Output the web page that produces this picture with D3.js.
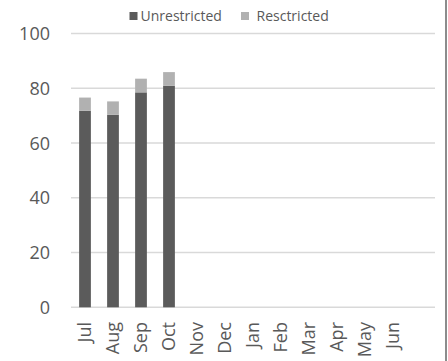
<!DOCTYPE html>
<html>
<head>
<meta charset="utf-8">
<script src="https://cdn.jsdelivr.net/npm/d3@7"></script>
<style>
  body { margin: 0; background: #fff; }
  svg { display: block; }
  text { font-family: "Open Sans", sans-serif; fill: #595959; }
</style>
</head>
<body>
<div id="chart"></div>
<script>
const width = 448;
const height = 361;

const months = ["Jul", "Aug", "Sep", "Oct", "Nov", "Dec", "Jan", "Feb", "Mar", "Apr", "May", "Jun"];
const unrestricted = [71.8, 70.3, 78.5, 80.9, null, null, null, null, null, null, null, null];
const restricted = [4.8, 4.9, 5.0, 5.0, null, null, null, null, null, null, null, null];
const yTicks = [0, 20, 40, 60, 80, 100];

const colors = { unrestricted: "#5b5b5b", restricted: "#b1b1b1" };

const svg = d3.select("#chart")
	.append("svg")
	.attr("width", width)
	.attr("height", height);

const x = d3.scaleBand()
	.domain(months)
	.range([71, 407])
	.paddingInner(0.58)
	.paddingOuter(0.29);

const y = d3.scaleLinear()
	.domain([0, 100])
	.range([307.3, 33.5]);

// gridlines
svg.append("g")
	.selectAll("line")
	.data(yTicks)
	.enter()
	.append("line")
	.attr("x1", 71)
	.attr("x2", 435)
	.attr("y1", d => y(d))
	.attr("y2", d => y(d))
	.style("stroke", "#d9d9d9")
	.style("stroke-width", 1.5);

// y labels
svg.append("g")
	.selectAll("text")
	.data(yTicks)
	.enter()
	.append("text")
	.attr("x", 50)
	.attr("y", d => y(d))
	.attr("dy", "0.36em")
	.style("text-anchor", "end")
	.style("font-size", "18px")
	.text(d => d);

// stacked bars
const rows = months.map((m, i) => ({ m: m, u: unrestricted[i], r: restricted[i] }))
	.filter(d => d.u != null);

const bars = svg.append("g").selectAll("g").data(rows).enter().append("g");

bars.append("rect")
	.attr("x", d => x(d.m))
	.attr("width", x.bandwidth())
	.attr("y", d => y(d.u))
	.attr("height", d => y(0) - y(d.u))
	.attr("fill", colors.unrestricted);

bars.append("rect")
	.attr("x", d => x(d.m))
	.attr("width", x.bandwidth())
	.attr("y", d => y(d.u + d.r))
	.attr("height", d => y(d.u) - y(d.u + d.r))
	.attr("fill", colors.restricted);

// x labels, rotated
svg.append("g")
	.selectAll("text")
	.data(months)
	.enter()
	.append("text")
	.attr("transform", d => "translate(" + (x(d) + x.bandwidth() / 2) + ",322) rotate(-90)")
	.attr("dy", "0.36em")
	.style("text-anchor", "end")
	.style("font-size", "18px")
	.text(d => d);

// legend
const legend = svg.append("g");
const legendItems = [
	{ label: "Unrestricted", color: colors.unrestricted, x: 129.5, tx: 140.5 },
	{ label: "Resctricted", color: colors.restricted, x: 241, tx: 256.5 }
];
legend.selectAll("rect")
	.data(legendItems)
	.enter()
	.append("rect")
	.attr("x", d => d.x)
	.attr("y", 12)
	.attr("width", 8)
	.attr("height", 8)
	.attr("fill", d => d.color);
legend.selectAll("text")
	.data(legendItems)
	.enter()
	.append("text")
	.attr("x", d => d.tx)
	.attr("y", 16)
	.attr("dy", "0.36em")
	.style("font-size", "14px")
	.text(d => d.label);

// right border
svg.append("line")
	.attr("x1", 446)
	.attr("x2", 446)
	.attr("y1", 0)
	.attr("y2", height)
	.style("stroke", "#8c8c8c")
	.style("stroke-width", 2);
</script>
</body>
</html>
